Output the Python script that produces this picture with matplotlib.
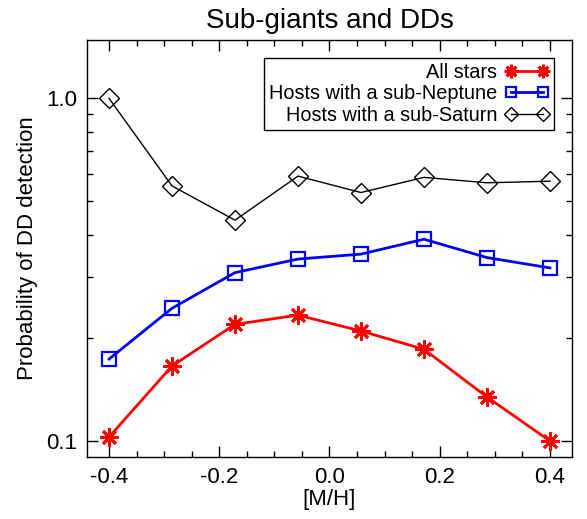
import matplotlib
matplotlib.use("Agg")
import matplotlib.pyplot as plt
from matplotlib.ticker import FixedLocator, MultipleLocator, NullFormatter, FixedFormatter

plt.rcParams["font.family"] = ["Liberation Sans", "DejaVu Sans"]

# metallicity bins
metallicity = [-0.4, -0.2857, -0.1714, -0.0571, 0.0571, 0.1714, 0.2857, 0.4]

# probability of debris disc detection
all_stars = [0.1027, 0.1655, 0.2190, 0.2329, 0.2094, 0.1852, 0.1344, 0.100]
sub_neptune = [0.1734, 0.2440, 0.3100, 0.3396, 0.3510, 0.3880, 0.3430, 0.3200]
sub_saturn = [1.0, 0.555, 0.441, 0.593, 0.531, 0.588, 0.567, 0.573]

fig = plt.figure(figsize=(5.87, 5.19), dpi=100)
ax = fig.add_axes([0.1482, 0.1195, 0.8262, 0.8034])

ax.plot(metallicity, all_stars, color="red", lw=2, marker=(8, 2, 0),
        ms=13, mew=2, label="All stars")
ax.plot(metallicity, sub_neptune, color="blue", lw=2, marker="s",
        ms=9.5, mew=1.6, mfc="none", label="Hosts with a sub-Neptune")
ax.plot(metallicity, sub_saturn, color="black", lw=1, marker="D",
        ms=10, mew=1, mfc="none", label="Hosts with a sub-Saturn")

ax.set_yscale("log")
ax.set_xlim(-0.44, 0.44)
ax.set_ylim(0.0898, 1.48)

ax.xaxis.set_minor_locator(MultipleLocator(0.05))
ax.set_xticks([-0.4, -0.2, 0.0, 0.2, 0.4])
ax.set_xticklabels(["-0.4", "-0.2", "0.0", "0.2", "0.4"])

ax.yaxis.set_major_locator(FixedLocator([0.1, 1.0]))
ax.yaxis.set_major_formatter(FixedFormatter(["0.1", "1.0"]))
ax.yaxis.set_minor_locator(FixedLocator([0.2, 0.3, 0.4, 0.5, 0.6, 0.7, 0.8, 0.9]))
ax.yaxis.set_minor_formatter(NullFormatter())

ax.tick_params(which="both", direction="in", top=True, right=True, labelsize=16)
ax.tick_params(which="major", length=8, width=1, pad=7)
ax.tick_params(which="minor", length=4, width=1)
for s in ax.spines.values():
    s.set_linewidth(1)

ax.set_xlabel("[M/H]", fontsize=16, labelpad=1)
ax.set_ylabel("Probability of DD detection", fontsize=16, labelpad=6)
ax.set_title("Sub-giants and DDs", fontsize=20, pad=9)

leg = ax.legend(loc="upper right", markerfirst=False, numpoints=2,
                fontsize=14.3, handlelength=2.2, handletextpad=0.4,
                labelspacing=0.12, borderpad=0.25, borderaxespad=0.9,
                fancybox=False, framealpha=1, edgecolor="black")
leg.get_frame().set_linewidth(1)
for h in leg.legend_handles:
    h.set_markersize(h.get_markersize() * 0.75)

fig.savefig("out.png", dpi=100)
